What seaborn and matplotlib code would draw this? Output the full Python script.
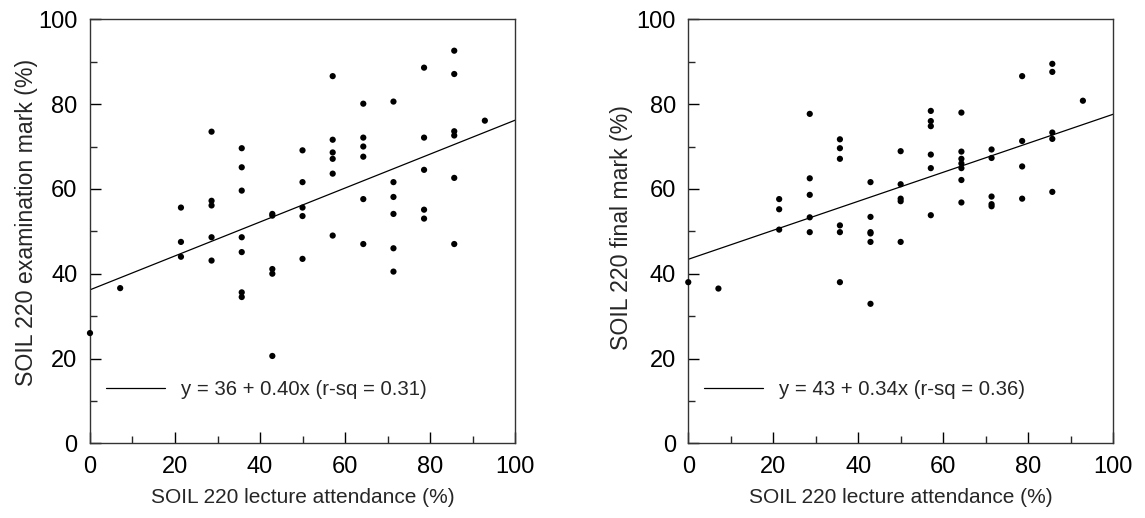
import numpy as np
import pandas as pd
import matplotlib
matplotlib.use("Agg")
import matplotlib.pyplot as plt
from matplotlib.ticker import MultipleLocator
import seaborn as sns

# ---- data ----
exam_attendance = [0, 7.1,
                   21.4, 21.4, 21.4,
                   28.6, 28.6, 28.6, 28.6, 28.6,
                   35.7, 35.7, 35.7, 35.7, 35.7, 35.7, 35.7,
                   42.9, 42.9, 42.9, 42.9, 42.9,
                   50.0, 50.0, 50.0, 50.0, 50.0,
                   57.1, 57.1, 57.1, 57.1, 57.1, 57.1,
                   64.3, 64.3, 64.3, 64.3, 64.3, 64.3,
                   71.4, 71.4, 71.4, 71.4, 71.4, 71.4,
                   78.6, 78.6, 78.6, 78.6, 78.6,
                   85.7, 85.7, 85.7, 85.7, 85.7, 85.7,
                   92.9]
exam_mark = [26.0, 36.6,
             55.6, 47.5, 44.0,
             73.5, 57.2, 56.1, 48.6, 43.1,
             69.6, 65.1, 59.6, 48.6, 45.1, 35.6, 34.5,
             54.1, 53.7, 41.1, 40.0, 20.6,
             69.1, 61.6, 55.6, 53.6, 43.5,
             86.6, 71.6, 68.6, 67.1, 63.6, 49.0,
             80.1, 72.1, 70.0, 67.6, 57.6, 47.0,
             80.6, 61.6, 58.1, 54.1, 46.0, 40.5,
             88.6, 72.1, 64.5, 55.1, 53.0,
             92.6, 87.1, 73.6, 72.6, 62.6, 47.0,
             76.1]

final_attendance = [0, 7.1,
                    21.4, 21.4, 21.4,
                    28.6, 28.6, 28.6, 28.6, 28.6,
                    35.7, 35.7, 35.7, 35.7, 35.7, 35.7,
                    42.9, 42.9, 42.9, 42.9, 42.9, 42.9,
                    50.0, 50.0, 50.0, 50.0, 50.0,
                    57.1, 57.1, 57.1, 57.1, 57.1, 57.1,
                    64.3, 64.3, 64.3, 64.3, 64.3, 64.3, 64.3,
                    71.4, 71.4, 71.4, 71.4, 71.4,
                    78.6, 78.6, 78.6, 78.6,
                    85.7, 85.7, 85.7, 85.7, 85.7,
                    92.9]
final_mark = [38.0, 36.5,
              57.6, 55.2, 50.4,
              77.7, 62.5, 58.6, 53.3, 49.8,
              71.7, 69.6, 67.1, 51.4, 49.8, 38.0,
              61.6, 53.4, 49.8, 49.5, 47.5, 32.9,
              68.9, 61.1, 57.7, 57.1, 47.5,
              78.4, 76.0, 74.8, 68.1, 64.9, 53.8,
              78.0, 68.8, 67.1, 66.0, 64.9, 62.1, 56.8,
              69.3, 67.3, 58.2, 56.4, 55.9,
              86.6, 71.3, 65.3, 57.7,
              89.5, 87.6, 73.3, 71.8, 59.3,
              80.8]

fit_intercepts = [36.2, 43.4]
fit_slopes = [0.40, 0.342]
fit_labels = ["y = 36 + 0.40x (r-sq = 0.31)", "y = 43 + 0.34x (r-sq = 0.36)"]
y_labels = ["SOIL 220 examination mark (%)", "SOIL 220 final mark (%)"]
x_label = "SOIL 220 lecture attendance (%)"
axis_range = [0, 100]

# ---- style ----
sns.set_style("ticks")
plt.rcParams["font.family"] = ["Liberation Sans", "DejaVu Sans"]

fig = plt.figure(figsize=(11.45, 5.18), dpi=100)
ax1 = fig.add_axes([0.0786, 0.1442, 0.3712, 0.8185])
ax2 = fig.add_axes([0.6011, 0.1442, 0.3710, 0.8185])

panels = [
    (ax1, exam_attendance, exam_mark, (-0.149, 0.52)),
    (ax2, final_attendance, final_mark, (-0.156, 0.51)),
]

for i, (ax, xs, ys, lab_pos) in enumerate(panels):
    df = pd.DataFrame({"x": xs, "y": ys})
    sns.scatterplot(data=df, x="x", y="y", ax=ax, color="black", s=20,
                    edgecolor="none", linewidth=0, zorder=3, clip_on=False)
    line_x = np.array(axis_range, dtype=float)
    line_df = pd.DataFrame({"x": line_x,
                            "y": fit_intercepts[i] + fit_slopes[i] * line_x})
    sns.lineplot(data=line_df, x="x", y="y", ax=ax, color="black",
                 linewidth=0.9, label=fit_labels[i])
    ax.set_xlim(axis_range)
    ax.set_ylim(axis_range)
    ax.xaxis.set_major_locator(MultipleLocator(20))
    ax.xaxis.set_minor_locator(MultipleLocator(10))
    ax.yaxis.set_major_locator(MultipleLocator(20))
    ax.yaxis.set_minor_locator(MultipleLocator(10))
    ax.tick_params(which="major", direction="in", length=8, width=1,
                   labelsize=17, pad=9, colors="black")
    ax.tick_params(which="minor", direction="in", length=5, width=1)
    ax.set_xlabel(x_label, fontsize=15, labelpad=7)
    ax.set_ylabel(y_labels[i], fontsize=16.7, va="center")
    ax.yaxis.set_label_coords(*lab_pos)
    for side in ["top", "right", "left", "bottom"]:
        ax.spines[side].set_visible(True)
        ax.spines[side].set_color("#333333")
        ax.spines[side].set_linewidth(1.0)
    ax.legend(loc="center left", bbox_to_anchor=(0.037, 0.126),
              frameon=False, fontsize=14.7, handlelength=2.9,
              handletextpad=0.77, borderaxespad=0, borderpad=0)

fig.savefig("out.png", dpi=100)
